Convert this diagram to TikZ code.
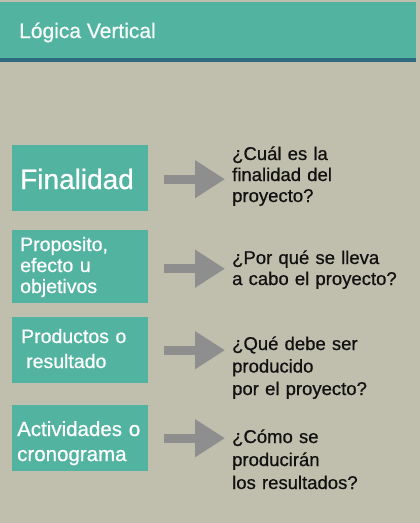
\documentclass[tikz,border=0pt]{standalone}
\usepackage{fontspec}
\setmainfont{Liberation Sans}[FakeBold=0.7]
\usetikzlibrary{arrows.meta}
\definecolor{bgc}{HTML}{C0BFAE}
\definecolor{teal}{HTML}{52B3A0}
\definecolor{hdline}{HTML}{2E6A7E}
\definecolor{arr}{HTML}{8E8E8E}
\definecolor{qtxt}{HTML}{111111}
\tikzset{
  box/.style={fill=teal, draw=none, inner sep=0pt, minimum width=136pt, anchor=north west},
  boxtxt/.style={text=white, inner sep=0pt, anchor=base west, align=left, text width=140pt},
  qtxt/.style={text=qtxt, inner sep=0pt, anchor=base west, align=left, text width=185pt},
  fatarrow/.style={draw=arr, line width=9pt, -{Triangle[width=36pt,length=30pt]}},
}
\begin{document}
\begin{tikzpicture}[x=1pt,y=-1pt]
\useasboundingbox (0,0) rectangle (420,523);
\fill[bgc] (0,0) rectangle (420,523);
% header
\fill[teal] (0,2) rectangle (416,58);
\fill[hdline] (0,58) rectangle (416,62);
\node[text=white!95!teal, inner sep=0pt, anchor=base west, font=\fontsize{21}{24}\selectfont] (title) at (19,38) {Lógica Vertical};
% boxes
\node[box, minimum height=66pt] (b1) at (12,145) {};
\node[box, minimum height=73pt] (b2) at (12,230) {};
\node[box, minimum height=66pt] (b3) at (12,317) {};
\node[box, minimum height=66pt] (b4) at (12,405) {};
% box texts
\node[text=white, inner sep=0pt, anchor=base, font=\fontsize{28}{32}\selectfont] (t1) at (77,189) {Finalidad};
\node[boxtxt, font=\fontsize{19.5}{21}\selectfont] (t2) at (20,251) {Proposito,\\efecto u\\objetivos};
\node[boxtxt, font=\fontsize{19.5}{25}\selectfont] (t3) at (21,343) {Productos o\\\hspace*{5pt}resultado};
\node[boxtxt, font=\fontsize{20.5}{25}\selectfont] (t4) at (17,436) {Actividades o\\cronograma};
% questions
\node[qtxt, font=\fontsize{18.5}{21}\selectfont] (q1) at (232,160) {¿Cuál es la\\finalidad del\\proyecto?};
\node[qtxt, font=\fontsize{18.5}{21}\selectfont] (q2) at (232,264) {¿Por qué se lleva\\a cabo el proyecto?};
\node[qtxt, font=\fontsize{18.5}{22.5}\selectfont] (q3) at (232,350) {¿Qué debe ser\\producido\\por el proyecto?};
\node[qtxt, font=\fontsize{18.5}{23}\selectfont] (q4) at (232,443) {¿Cómo se\\producirán\\los resultados?};
% arrows
\draw[fatarrow] ([xshift=16pt,yshift=-1pt]b1.east) -- ([xshift=-7pt,yshift=-1pt]b1.east -| q1.west);
\draw[fatarrow] ([xshift=16pt,yshift=-2pt]b2.east) -- ([xshift=-7pt,yshift=-2pt]b2.east -| q2.west);
\draw[fatarrow] ([xshift=16pt]b3.east) -- ([xshift=-7pt]b3.east -| q3.west);
\draw[fatarrow] ([xshift=16pt]b4.east) -- ([xshift=-7pt]b4.east -| q4.west);
\end{tikzpicture}
\end{document}
